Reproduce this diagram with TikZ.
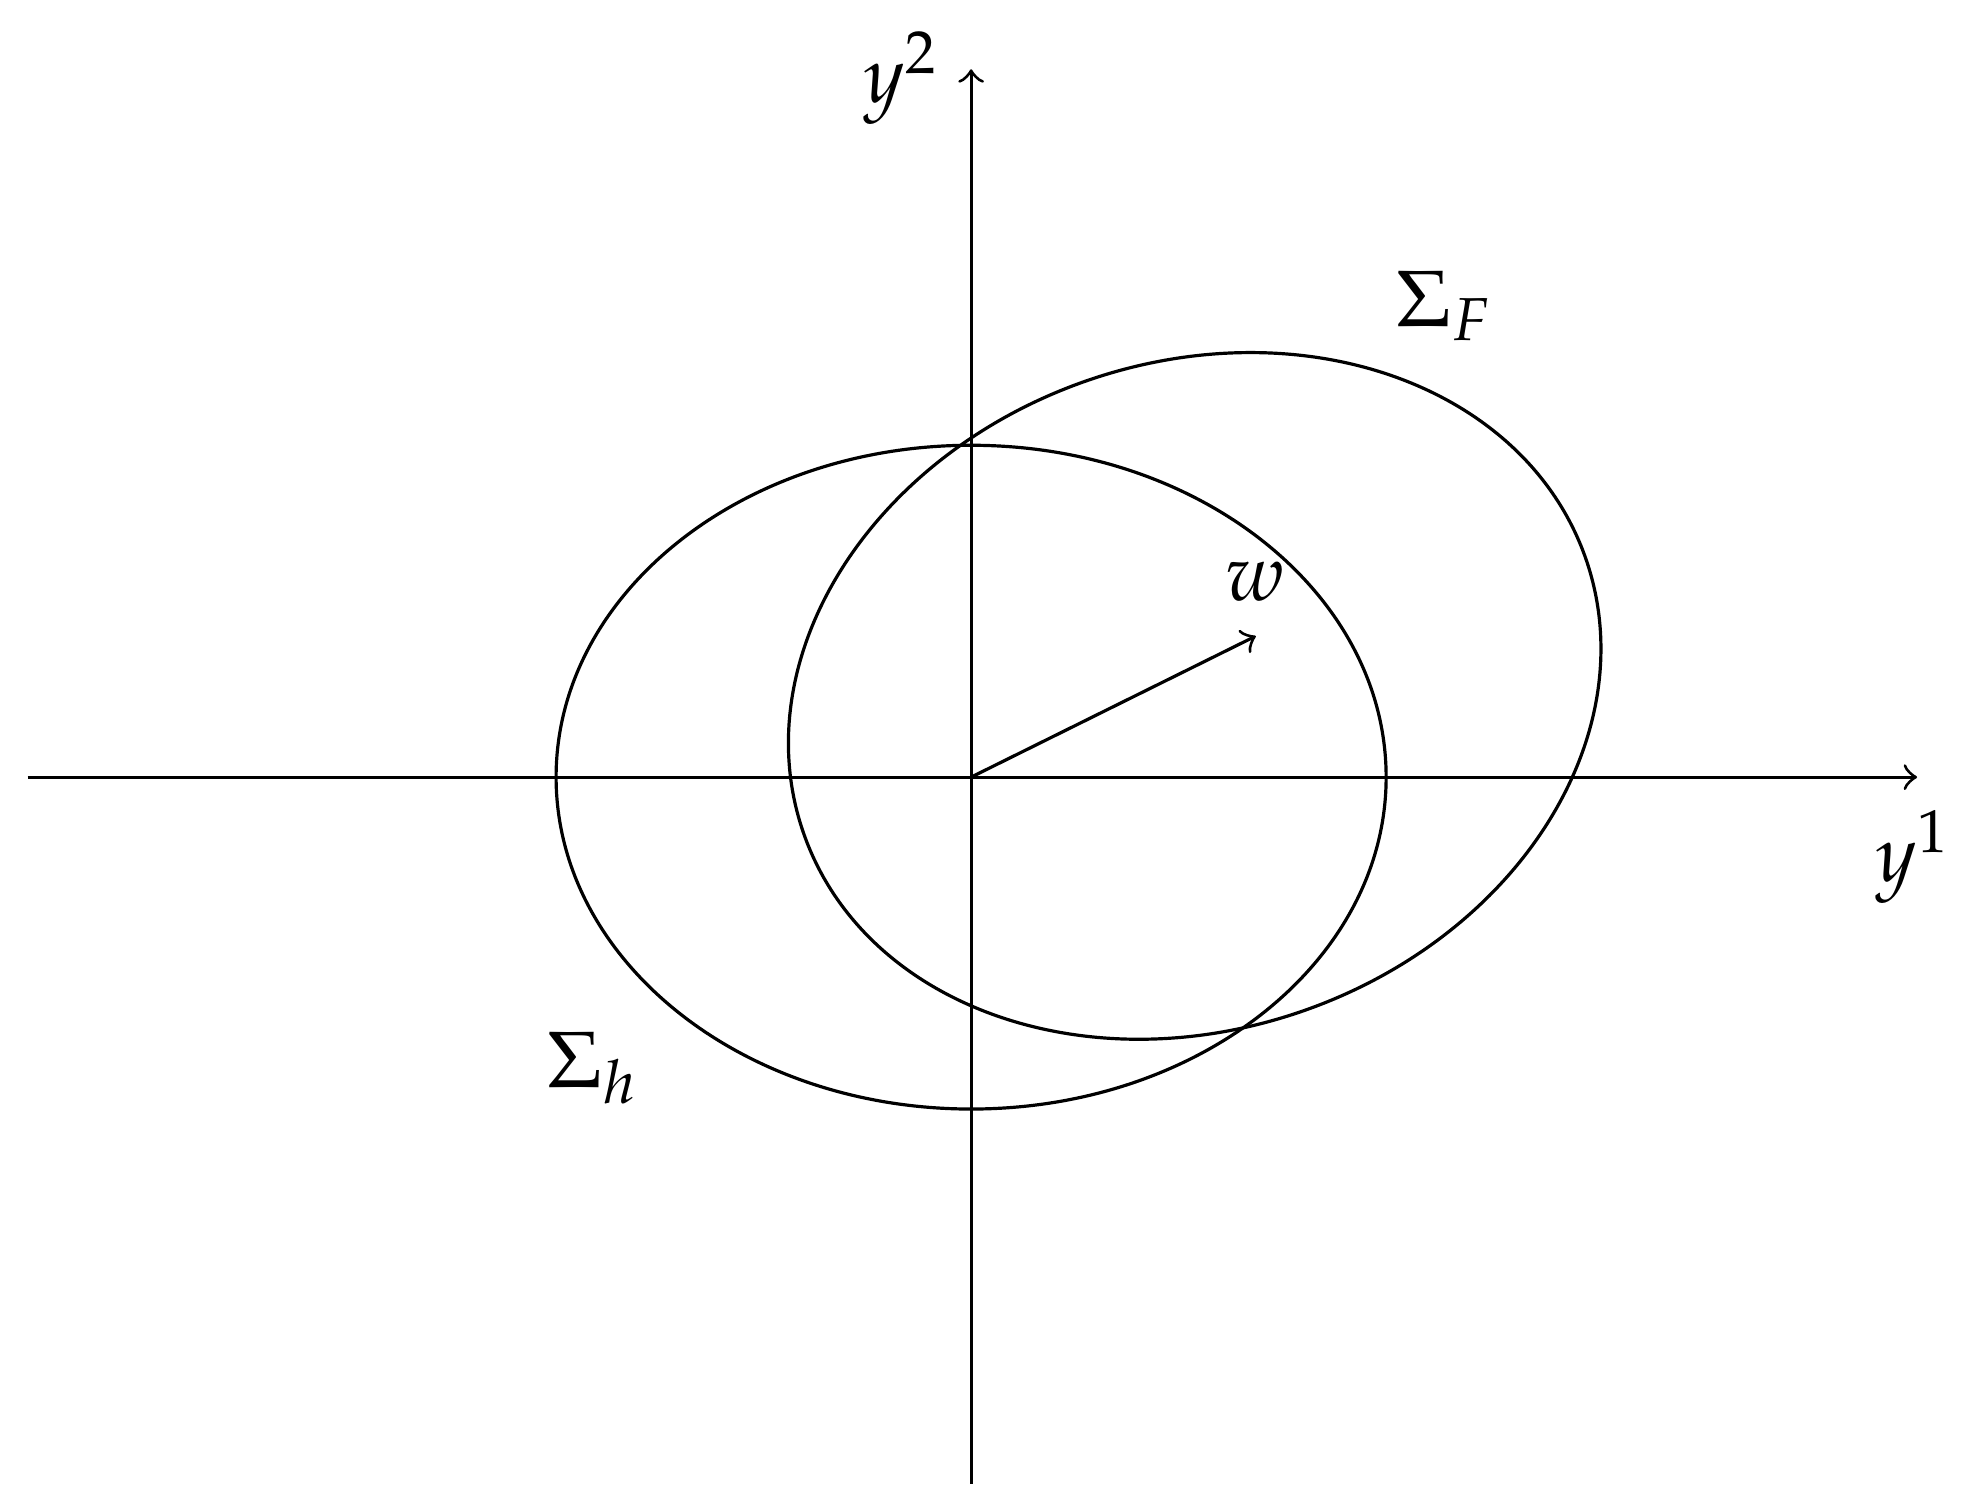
\documentclass[tikz,border=0pt]{standalone}
\usepackage{mathpazo}
\begin{document}
\begin{tikzpicture}[x=0.00638cm,y=-0.00638cm,
  line width=0.46pt,
  axis/.style={->},
  curve/.style={draw},
  lbl/.style={inner sep=0pt,font=\fontsize{11.5}{14}\selectfont}]
\useasboundingbox (0,0) rectangle (1568,1195);
\coordinate (O) at (771,617);
\coordinate (xl) at (22,617);
\coordinate (xr) at (1522,617);
\coordinate (yb) at (771,1178);
\coordinate (yt) at (771,55);
\coordinate (F) at (948.5,552.5);
\coordinate (wt) at (997,505);
\draw[axis] (xl) -- (xr);
\draw[axis] (yb) -- (yt);
\draw[curve] (O) ellipse [x radius=329.5, y radius=263.5];
\draw[curve, rotate around={19.6:(F)}] (F) ellipse [x radius=329.1, y radius=264.5];
\draw[->] (O) -- (wt);
\node[lbl] (ly2) at (716,62) {$y^2$};
\node[lbl] (ly1) at (1519,680) {$y^1$};
\node[lbl] (lw) at (997,462) {$w$};
\node[lbl] (lF) at (1147,243) {$\Sigma_F$};
\node[lbl] (lh) at (471,848) {$\Sigma_h$};
\end{tikzpicture}
\end{document}
